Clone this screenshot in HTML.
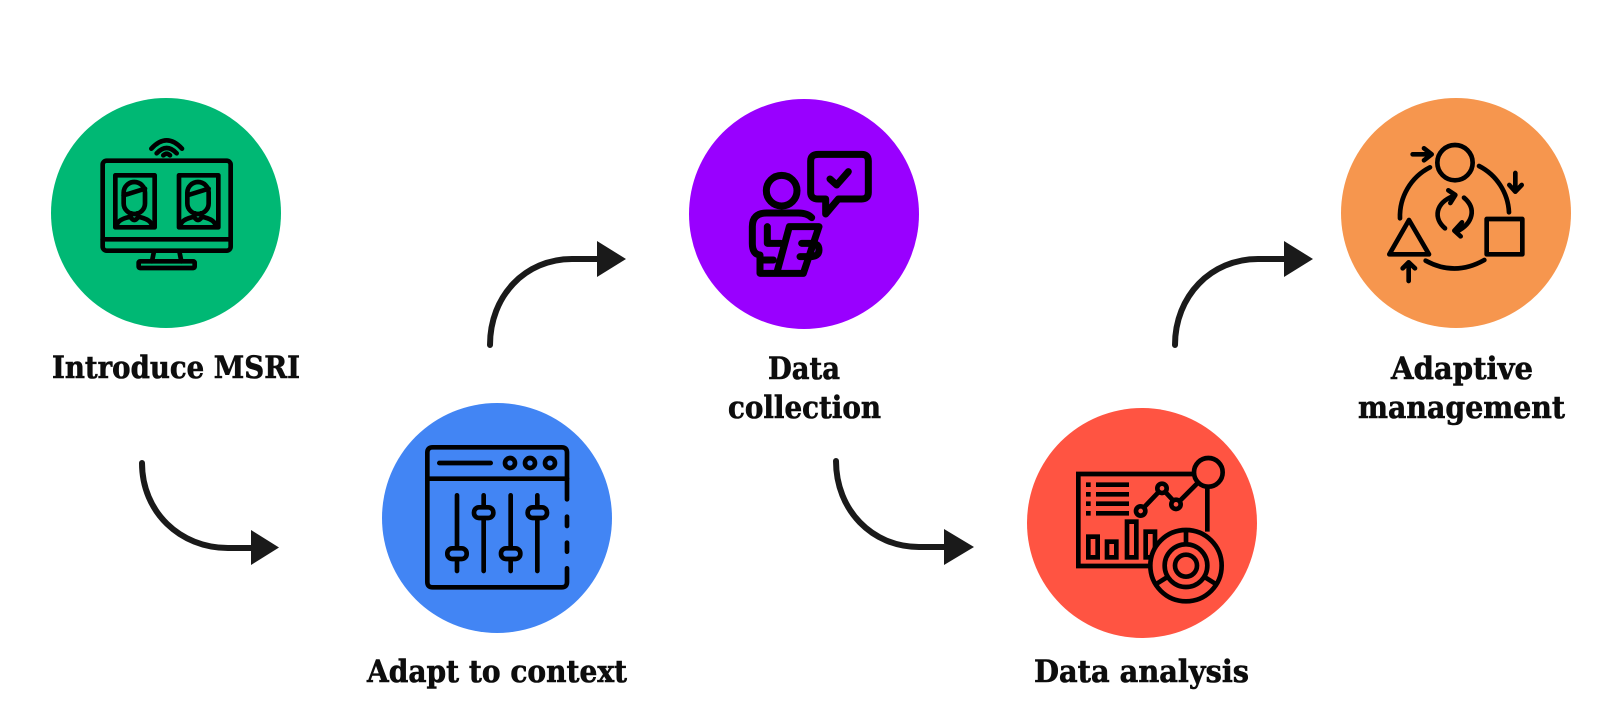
<!DOCTYPE html>
<html>
<head>
<meta charset="utf-8">
<style>
html,body{margin:0;padding:0;background:#fff;width:1600px;height:715px;overflow:hidden}
svg{display:block}
text{font-family:"DejaVu Serif","Liberation Serif",serif;font-weight:bold;font-size:31px;fill:#0d0d0d;stroke:#0d0d0d;stroke-width:.6}
.i{fill:none;stroke:#000;stroke-width:14;stroke-linecap:round;stroke-linejoin:round}
.c{fill:none;stroke:#1a1a1a;stroke-width:6;stroke-linecap:round}
</style>
</head>
<body>
<svg width="1600" height="715" viewBox="0 0 1600 715" xmlns="http://www.w3.org/2000/svg">
<rect width="1600" height="715" fill="#fff"/>
<circle cx="166" cy="213" r="115" fill="#00b874"/>
<circle cx="497" cy="518" r="115" fill="#4285f4"/>
<circle cx="804" cy="214" r="115" fill="#9900ff"/>
<circle cx="1142" cy="523" r="115" fill="#ff5442"/>
<circle cx="1456" cy="213" r="115" fill="#f6964e"/>

<!-- connectors -->
<path class="c" d="M142 463 C142 512 180 548 228 548 L254 548"/>
<polygon points="251,530 279,547.500 251,565" fill="#1a1a1a"/>
<path class="c" d="M490 345 C490 296 525 259 572 259 L600 259"/>
<polygon points="597,241 626,259 597,277" fill="#1a1a1a"/>
<path class="c" d="M836 461 C836 510 872 547 919 547 L947 547"/>
<polygon points="944,529 974,547 944,565" fill="#1a1a1a"/>
<path class="c" d="M1175 345 C1175 296 1211 259 1258 259 L1287 259"/>
<polygon points="1284,241 1313,259 1284,277" fill="#1a1a1a"/>

<!-- labels -->
<text x="52" y="378" textLength="248" lengthAdjust="spacingAndGlyphs">Introduce MSRI</text>
<text x="367" y="682" textLength="260" lengthAdjust="spacingAndGlyphs">Adapt to context</text>
<text x="768" y="379" textLength="72" lengthAdjust="spacingAndGlyphs">Data</text>
<text x="728" y="418" textLength="153" lengthAdjust="spacingAndGlyphs">collection</text>
<text x="1034" y="682" textLength="215" lengthAdjust="spacingAndGlyphs">Data analysis</text>
<text x="1391" y="379" textLength="142" lengthAdjust="spacingAndGlyphs">Adaptive</text>
<text x="1358" y="418" textLength="207" lengthAdjust="spacingAndGlyphs">management</text>

<!-- icon 1 monitor -->
<g transform="translate(80 120) scale(.33333)" class="i">
<rect x="68" y="122" width="384" height="270" rx="12"/>
<path d="M68 358 H452"/>
<path d="M222 394 L216 424 M298 394 L304 424"/>
<rect x="176" y="424" width="168" height="20" rx="4"/>
<path d="M214 86 Q260 36 306 86 M230 100 Q260 68 290 100 M250 106 Q260 96 270 106"/>
<rect x="106" y="166" width="118" height="156"/>
<rect x="131" y="186" width="64" height="96" rx="32"/>
<path d="M131 226 L195 206"/>
<path d="M110 318 Q112 298 152 290 L154 280 M216 318 Q214 298 174 290 L172 280 M152 292 Q163 308 174 292"/>
<g transform="translate(191 0)">
<rect x="106" y="166" width="118" height="156"/>
<rect x="131" y="186" width="64" height="96" rx="32"/>
<path d="M131 226 L195 206"/>
<path d="M110 318 Q112 298 152 290 L154 280 M216 318 Q214 298 174 290 L172 280 M152 292 Q163 308 174 292"/>
</g>
</g>

<!-- icon 2 sliders -->
<g transform="translate(360 380) scale(.33333)" class="i">
<path d="M621 358 V218 Q621 202 605 202 H218 Q202 202 202 218 V606 Q202 622 218 622 H605 Q621 622 621 606 V565"/>
<path d="M621 410 V438 M621 488 V515"/>
<path d="M202 296 H621"/>
<path d="M238 249 H392"/>
<circle cx="450" cy="249" r="15"/><circle cx="510" cy="249" r="15"/><circle cx="570" cy="249" r="15"/>
<path d="M291 346 V573 M371 346 V573 M452 346 V573 M532 346 V573"/>
<g style="fill:#4285f4">
<rect x="262" y="505" width="58" height="32" rx="15"/>
<rect x="342" y="382" width="58" height="32" rx="15"/>
<rect x="423" y="505" width="58" height="32" rx="15"/>
<rect x="503" y="382" width="58" height="32" rx="15"/>
</g>
</g>

<!-- icon 3 person -->
<g transform="translate(720 135) scale(.33333)" class="i" style="stroke-width:21">
<circle cx="185" cy="167" r="46"/>
<path d="M295 58 H425 Q445 58 445 78 V172 Q445 192 425 192 H355 L317 237 V192 H295 Q272 192 272 172 V78 Q272 58 295 58 Z"/>
<path d="M330 132 L350 150 L385 110"/>
<path d="M275 248 Q262 234 235 234 H140 Q97 234 97 275 V325 Q97 358 120 360 V415 H250 L297 275 H208 L170 415"/>
<path d="M142 275 V325 H182"/>
<path d="M122 375 H160"/>
<path d="M245 325 H275 Q297 325 297 345 Q297 365 270 365 H240"/>
</g>

<!-- icon 4 analysis -->
<g transform="translate(1000 400) scale(.33333)" class="i" style="stroke-width:14;stroke-linecap:butt;stroke-linejoin:miter">
<path d="M585 222 H235 V498 H450"/>
<path d="M622 260 V395"/>
<path d="M258 254 H272 M288 254 H387 M258 283 H272 M288 283 H387 M258 311 H272 M288 311 H387 M258 340 H272 M288 340 H387" style="stroke-width:14"/>
<path d="M432 322 L476 276 M496 276 L520 302 M540 302 L592 250"/>
<circle cx="422" cy="333" r="14"/><circle cx="486" cy="265" r="14"/><circle cx="528" cy="313" r="14"/>
<circle cx="625" cy="217" r="43"/>
<rect x="265" y="410" width="28" height="62"/>
<rect x="321" y="425" width="28" height="47"/>
<rect x="381" y="365" width="28" height="107"/>
<rect x="437" y="395" width="28" height="77"/>
<circle cx="558" cy="497" r="107" style="fill:#ff5442"/>
<circle cx="558" cy="497" r="64"/>
<circle cx="558" cy="497" r="33"/>
<path d="M558 392 V433 M472 550 L504 530 M644 550 L612 530"/>
</g>

<!-- icon 5 cycle -->
<g transform="translate(1310 95) scale(.33333)" class="i">
<circle cx="435" cy="203" r="53"/>
<path d="M360 217 A165 165 0 0 0 270 370"/>
<path d="M507 213 A165 165 0 0 1 597 352"/>
<path d="M347 497 Q435 545 523 495"/>
<path d="M297 375 L357 478 H238 Z"/>
<rect x="530" y="372" width="107" height="106"/>
<path d="M308 178 H362 M342 160 L365 178 L342 196"/>
<path d="M616 234 V290 M598 270 L616 290 L635 270"/>
<path d="M296 558 V502 M278 520 L296 502 L315 520"/>
<path d="M405 400 C370 370 375 325 430 303 M415 286 L436 300 L421 324"/>
<path d="M462 308 C500 340 490 385 440 410 M456 382 L433 407 L452 424"/>
</g>
</svg>
</body>
</html>
